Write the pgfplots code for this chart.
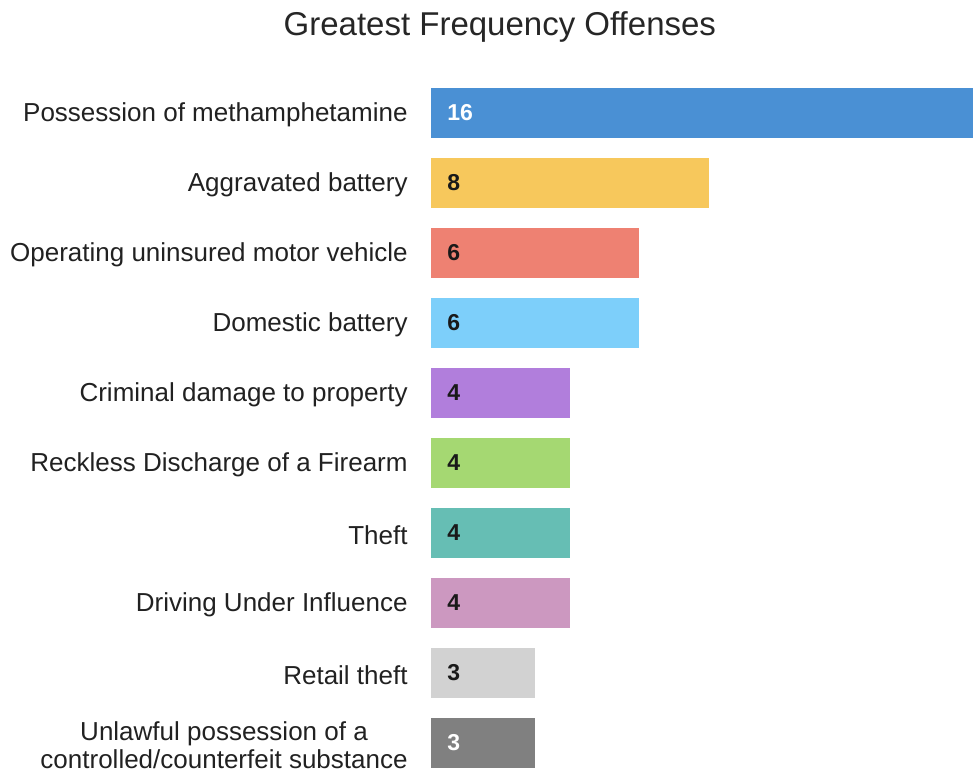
\documentclass[border=0pt]{standalone}
\usepackage{fontspec}
\setmainfont{Liberation Sans}
\usepackage{pgfplots}
\pgfplotsset{compat=1.18}
\definecolor{cA}{HTML}{4A90D4}
\definecolor{cB}{HTML}{F7C85C}
\definecolor{cC}{HTML}{EE8172}
\definecolor{cD}{HTML}{7DCFFA}
\definecolor{cE}{HTML}{B17EDC}
\definecolor{cF}{HTML}{A5D872}
\definecolor{cG}{HTML}{66BEB4}
\definecolor{cH}{HTML}{CC98C0}
\definecolor{cI}{HTML}{D2D2D2}
\definecolor{cJ}{HTML}{808080}
\begin{document}
\begin{tikzpicture}
\begin{axis}[
    scale only axis, width=271pt, height=347pt,
    xmin=0, xmax=15.62, ymin=-0.5, ymax=9.414, y dir=reverse,
    axis line style={draw=none}, xtick=\empty, ytick={0,...,9},
    major tick length=0pt,
    yticklabels={Possession of methamphetamine, Aggravated battery,
        Operating uninsured motor vehicle, Domestic battery,
        Criminal damage to property, Reckless Discharge of a Firearm,
        Theft, Driving Under Influence, Retail theft,
        {Unlawful possession of a\\controlled/counterfeit substance}},
    yticklabel style={font=\fontsize{13}{14}\selectfont, text=black!87,
        align=center, anchor=east, inner sep=0pt, xshift=-11.5pt, yshift=-1pt},
    title={Greatest Frequency Offenses},
    title style={at={(0.127,1.076)}, anchor=center, yshift=-7pt,
        font=\fontsize{16.5}{20}\selectfont, text=black!85},
    bar width=25pt,
    mybar/.style={xbar, bar shift=0pt, draw=none, fill=#1},
    lbl/.style={draw=none, nodes near coords, point meta=explicit symbolic,
        nodes near coords style={anchor=west, xshift=8pt, inner sep=0pt,
            font=\bfseries\fontsize{11.5}{12}\selectfont, text=#1}},
]
\addplot[mybar=cA] coordinates {(16,0)};
\addplot[mybar=cB] coordinates {(8,1)};
\addplot[mybar=cC] coordinates {(6,2)};
\addplot[mybar=cD] coordinates {(6,3)};
\addplot[mybar=cE] coordinates {(4,4)};
\addplot[mybar=cF] coordinates {(4,5)};
\addplot[mybar=cG] coordinates {(4,6)};
\addplot[mybar=cH] coordinates {(4,7)};
\addplot[mybar=cI] coordinates {(3,8)};
\addplot[mybar=cJ] coordinates {(3,9)};
% value labels at the start of each bar
\addplot[lbl=black!90] coordinates {(0,1)[8] (0,2)[6] (0,3)[6] (0,4)[4]
    (0,5)[4] (0,6)[4] (0,7)[4] (0,8)[3]};
\addplot[lbl=white] coordinates {(0,0)[16] (0,9)[3]};
\end{axis}
\pgfresetboundingbox
\path (current axis.south west) ++(-215.5pt,0pt) rectangle ++(486.5pt,386pt);
\end{tikzpicture}
\end{document}
